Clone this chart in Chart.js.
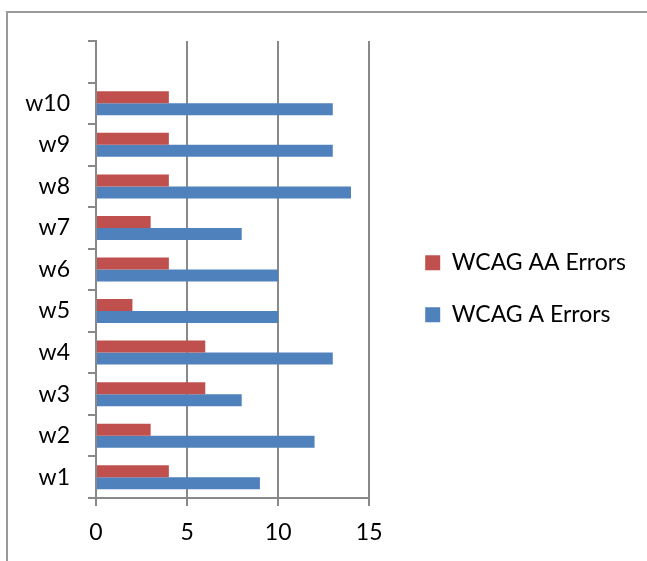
<!DOCTYPE html>
<html>
<head>
<meta charset="utf-8">
<script src="https://cdn.jsdelivr.net/npm/chart.js@4"></script>
<style>
    body { margin: 0; background: #fff; overflow: hidden; }
    #frame {
        position: absolute; left: 6px; top: 11px; width: 700px; height: 600px;
        border-left: 2px solid #9a9a9a; border-top: 2px solid #9a9a9a;
    }
    #chart { position: absolute; left: 0; top: 0; }
</style>
</head>
<body>
<div id="frame"></div>
<canvas id="chart" width="647" height="561"></canvas>
<script>
// 数据
const categories = ['w1', 'w2', 'w3', 'w4', 'w5', 'w6', 'w7', 'w8', 'w9', 'w10'];
const aaErrors = [4, 3, 6, 6, 2, 4, 3, 4, 4, 4];
const aErrors = [9, 12, 8, 13, 10, 10, 8, 14, 13, 13];
const xTicks = [0, 5, 10, 15];

const FONT = 'Lato';
const FONT_SIZE = 23;
const GRID = '#898989';

// 从上到下: 空行, w10 ... w1
const labels = [''].concat(categories.slice().reverse());
const aaData = [null].concat(aaErrors.slice().reverse());
const aData = [null].concat(aErrors.slice().reverse());

// 图例宽度, 用于把图例放到固定位置
const mctx = document.createElement('canvas').getContext('2d');
mctx.font = FONT_SIZE + 'px ' + FONT;
const textW = Math.max(mctx.measureText('WCAG AA Errors').width, mctx.measureText('WCAG A Errors').width);
const legendPad = 29;
const gapW = 27;
const legendW = legendPad + 15 + FONT_SIZE / 2 + textW;
const padRight = Math.max(0, 647 - (369.6 + gapW) - legendW - 9.6);

new Chart(document.getElementById('chart'), {
    type: 'bar',
    data: {
        labels: labels,
        datasets: [
            {
                label: 'WCAG AA Errors',
                data: aaData,
                backgroundColor: '#C0504D',
                borderWidth: 0,
                categoryPercentage: 0.578,
                barPercentage: 1
            },
            {
                label: 'WCAG A Errors',
                data: aData,
                backgroundColor: '#4F81BD',
                borderWidth: 0,
                categoryPercentage: 0.578,
                barPercentage: 1
            }
        ]
    },
    options: {
        indexAxis: 'y',
        responsive: false,
        animation: false,
        layout: { padding: { left: 0, top: 41, right: padRight, bottom: 0 } },
        plugins: {
            tooltip: { enabled: false },
            legend: {
                position: 'right',
                align: 'center',
                fullSize: false,
                maxWidth: 400,
                // 空标题只用来把图例往下推
                title: { display: true, text: '', font: { size: 10, lineHeight: 1 }, padding: { top: 0, bottom: 28.6 } },
                labels: {
                    boxWidth: 15,
                    boxHeight: 15,
                    padding: legendPad,
                    color: '#000',
                    font: { family: FONT, size: FONT_SIZE }
                }
            }
        },
        scales: {
            x: {
                min: 0,
                max: 15,
                afterBuildTicks: s => { s.ticks = xTicks.map(v => ({ value: v })); },
                afterFit: s => { s.height = 63; },
                border: { display: true, color: GRID, width: 2 },
                grid: { color: GRID, lineWidth: 2, drawTicks: true, tickLength: 8, tickColor: GRID },
                ticks: { padding: 13, color: '#000', font: { family: FONT, size: FONT_SIZE } }
            },
            y: {
                afterFit: s => { s.width = 96; },
                border: { display: true, color: GRID, width: 2 },
                grid: { offset: true, drawOnChartArea: false, drawTicks: true, tickLength: 8, color: GRID, lineWidth: 2 },
                ticks: { padding: 18, color: '#000', font: { family: FONT, size: FONT_SIZE } }
            },
            // 占位轴, 让图例和绘图区之间留出空白
            gap: {
                type: 'linear',
                axis: 'y',
                position: 'right',
                display: true,
                afterFit: s => { s.width = gapW; },
                border: { display: false },
                grid: { display: false },
                ticks: { display: false }
            }
        }
    }
});
</script>
</body>
</html>
